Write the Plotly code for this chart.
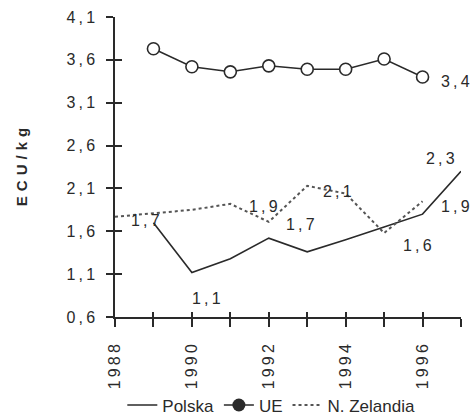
import plotly.graph_objects as go

years = [1988, 1989, 1990, 1991, 1992, 1993, 1994, 1995, 1996, 1997]
polska = [None, 1.70, 1.12, 1.28, 1.52, 1.36, 1.50, 1.65, 1.80, 2.30]
ue = [None, 3.73, 3.52, 3.46, 3.53, 3.49, 3.49, 3.61, 3.40, None]
zelandia = [1.77, 1.81, 1.85, 1.92, 1.71, 2.13, 2.04, 1.58, 1.95, None]

y_ticks = [0.6, 1.1, 1.6, 2.1, 2.6, 3.1, 3.6, 4.1]
x_ticks = years
x_ticktext = ["1988", "", "1990", "", "1992", "", "1994", "", "1996", ""]
legend_names = ["Polska", "UE", "N. Zelandia"]

TS = "\u2009"
def spaced(s, sep=TS):
    return sep.join(list(s))

# labels: (text, series, year, xshift, yshift)
labels = [
    ("1,7", "polska", 1989, -8, 2),
    ("1,1", "polska", 1990, 15, -26),
    ("2,3", "polska", 1997, -21, 13),
    ("1,9", "zelandia", 1991, 33, -3),
    ("1,7", "zelandia", 1992, 32, -3),
    ("2,1", "zelandia", 1993, 30, -6),
    ("1,6", "zelandia", 1995, 33, -12),
    ("1,9", "zelandia", 1996, 33, -5),
    ("3,4", "ue", 1996, 33, -4),
]
series = {"polska": polska, "ue": ue, "zelandia": zelandia}

FONT = "Liberation Sans, Arial, sans-serif"
INK = "#2a2a2a"

fig = go.Figure()
fig.add_trace(go.Scatter(x=years, y=polska, mode="lines", name=legend_names[0],
                         line=dict(color=INK, width=1.6), cliponaxis=False))
fig.add_trace(go.Scatter(x=years, y=ue, mode="lines+markers", name=legend_names[1], showlegend=False,
                         line=dict(color=INK, width=1.5),
                         marker=dict(symbol="circle", size=12, color="white",
                                     line=dict(color=INK, width=1.6)),
                         cliponaxis=False))
fig.add_trace(go.Scatter(x=[None], y=[None], mode="lines+markers", name=legend_names[1],
                         line=dict(color=INK, width=1.5),
                         marker=dict(symbol="circle", size=13, color=INK)))
fig.add_trace(go.Scatter(x=years, y=zelandia, mode="lines", name=legend_names[2],
                         line=dict(color="#555555", width=2, dash="dot"), cliponaxis=False))
# helper trace for crossing tick marks
fig.add_trace(go.Scatter(x=[], y=[], xaxis="x2", yaxis="y2", showlegend=False))

for text, s, yr, dx, dy in labels:
    val = series[s][years.index(yr)]
    fig.add_annotation(x=yr, y=val, text=spaced(text), showarrow=False,
                       xshift=dx, yshift=dy, font=dict(size=16, color=INK, family=FONT))

fig.update_layout(
    width=476, height=418,
    margin=dict(l=115, r=15, t=17, b=101),
    plot_bgcolor="white", paper_bgcolor="white",
    font=dict(family=FONT, size=16, color=INK),
    showlegend=True,
    legend=dict(orientation="h", xref="container", yref="container",
                x=0.57, xanchor="center", y=0.03, yanchor="middle",
                bgcolor="rgba(0,0,0,0)",
                font=dict(size=17, color=INK, family=FONT),
                traceorder="normal", itemwidth=30),
    xaxis=dict(range=[1988, 1997], tickvals=x_ticks, ticktext=[spaced(t) for t in x_ticktext],
               tickangle=-90, ticks="outside", ticklen=8, tickwidth=1.5, tickcolor=INK,
               showline=True, linecolor=INK, linewidth=1.5, showgrid=False, zeroline=False,
               ticklabelstandoff=11, tickfont=dict(size=16, color=INK), automargin=False),
    yaxis=dict(range=[0.6, 4.1], tickvals=y_ticks,
               ticktext=[spaced(f"{v:.1f}".replace(".", ",")) for v in y_ticks],
               ticks="outside", ticklen=7, tickwidth=1.5, tickcolor=INK,
               showline=True, linecolor=INK, linewidth=1.5, showgrid=False, zeroline=False,
               ticklabelstandoff=8, tickfont=dict(size=16, color=INK), automargin=False,
               title=dict(text="<b>" + spaced("ECU/kg", "\u2004") + "</b>", standoff=35,
                          font=dict(size=15, color=INK, family=FONT))),
    xaxis2=dict(range=[1988, 1997], tickvals=x_ticks, overlaying="x", anchor="y2",
                ticks="inside", ticklen=5, tickwidth=1.5, tickcolor=INK,
                showticklabels=False, showline=False, showgrid=False, zeroline=False),
    yaxis2=dict(range=[0.6, 4.1], tickvals=y_ticks, overlaying="y", anchor="x2", side="left",
                ticks="inside", ticklen=7, tickwidth=1.5, tickcolor=INK,
                showticklabels=False, showline=False, showgrid=False, zeroline=False),
)

fig.write_html("out.html", config={"displayModeBar": False},
               post_script="document.body.style.margin='0';")
